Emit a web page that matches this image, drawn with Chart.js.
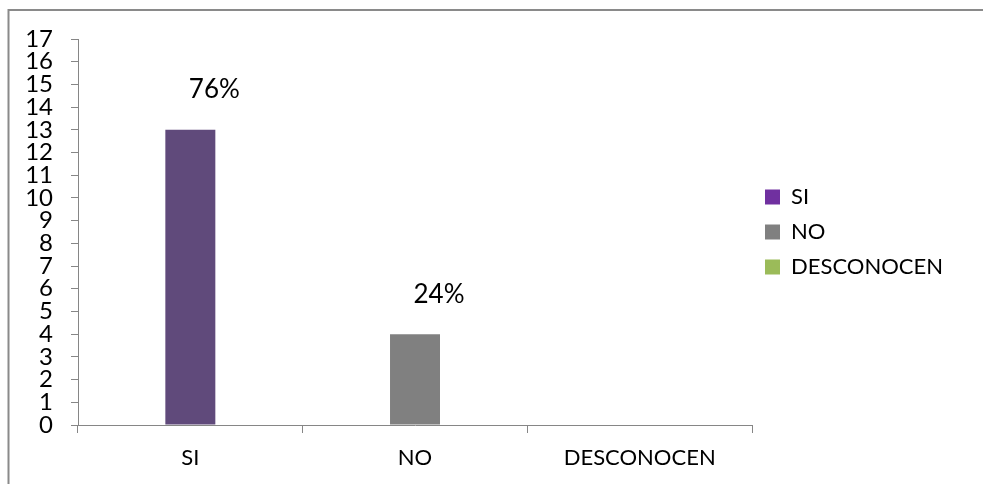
<!DOCTYPE html>
<html>
<head>
<meta charset="utf-8">
<script src="https://cdn.jsdelivr.net/npm/chart.js@4/dist/chart.umd.min.js"></script>
<style>
  html, body { margin: 0; padding: 0; background: #ffffff; }
  #wrap { width: 983px; height: 484px; position: relative; }
</style>
</head>
<body>
<div id="wrap"><canvas id="c" width="983" height="484"></canvas></div>
<script>
// Survey answers
const categories = ['SI', 'NO', 'DESCONOCEN'];
const counts = [13, 4, 0];
const yTicks = [0, 1, 2, 3, 4, 5, 6, 7, 8, 9, 10, 11, 12, 13, 14, 15, 16, 17];

const barColors = ['#604A7B', '#808080', '#9BBB59'];
const legendColors = ['#7030A0', '#808080', '#9BBB59'];
const axisGray = '#868686';
const FONT = 'Lato, "Liberation Sans", sans-serif';

const total = counts.reduce((a, b) => a + b, 0);

// Percentage of the total written above each non-empty bar
const percentLabels = {
  id: 'percentLabels',
  afterDatasetsDraw(chart) {
    const ctx = chart.ctx;
    const meta = chart.getDatasetMeta(0);
    ctx.save();
    ctx.font = '26px ' + FONT;
    ctx.fillStyle = '#000000';
    ctx.textAlign = 'center';
    ctx.textBaseline = 'middle';
    meta.data.forEach((bar, i) => {
      const v = counts[i];
      if (!v) return;
      const pct = Math.round(v / total * 100) + '%';
      ctx.fillText(pct, bar.x + 24, bar.y - 40);
    });
    ctx.restore();
  }
};

// Thin frame along the left and top edges
const frame = {
  id: 'frame',
  beforeDraw(chart) {
    const ctx = chart.ctx;
    ctx.save();
    ctx.strokeStyle = '#8a8a8a';
    ctx.lineWidth = 2;
    ctx.beginPath();
    ctx.moveTo(8.5, 484);
    ctx.lineTo(8.5, 10);
    ctx.lineTo(983, 10);
    ctx.stroke();
    ctx.restore();
  }
};

new Chart(document.getElementById('c'), {
  type: 'bar',
  data: {
    labels: categories,
    datasets: [{
      data: counts,
      backgroundColor: barColors,
      borderWidth: 0,
      categoryPercentage: 1,
      barPercentage: 0.2225
    }]
  },
  options: {
    responsive: false,
    animation: false,
    events: [],
    layout: { padding: { top: 39, right: 30, bottom: 0, left: 0 } },
    plugins: {
      tooltip: { enabled: false },
      legend: {
        position: 'right',
        fullSize: false,
        onClick: null,
        labels: {
          font: { family: FONT, size: 22 },
          color: '#000000',
          boxWidth: 15,
          boxHeight: 15,
          padding: 13,
          generateLabels() {
            return categories.map((name, i) => ({
              text: name,
              fillStyle: legendColors[i],
              strokeStyle: legendColors[i],
              lineWidth: 0,
              hidden: false,
              index: i,
              datasetIndex: 0
            }));
          }
        }
      }
    },
    scales: {
      x: {
        afterFit(scale) { scale.height = 59; },
        border: { display: true, color: axisGray, width: 1 },
        grid: {
          offset: true,
          drawOnChartArea: false,
          drawTicks: true,
          tickLength: 8,
          color: axisGray
        },
        ticks: {
          font: { family: FONT, size: 22 },
          color: '#000000',
          padding: 12,
          maxRotation: 0
        }
      },
      y: {
        min: 0,
        max: 17,
        afterFit(scale) { scale.width = 78; },
        afterBuildTicks(scale) { scale.ticks = yTicks.map(v => ({ value: v })); },
        border: { display: true, color: axisGray, width: 1 },
        grid: {
          drawOnChartArea: false,
          drawTicks: true,
          tickLength: 7,
          color: axisGray
        },
        ticks: {
          font: { family: FONT, size: 24 },
          color: '#000000',
          padding: 18,
          autoSkip: false
        }
      }
    }
  },
  plugins: [frame, percentLabels]
});
</script>
</body>
</html>
